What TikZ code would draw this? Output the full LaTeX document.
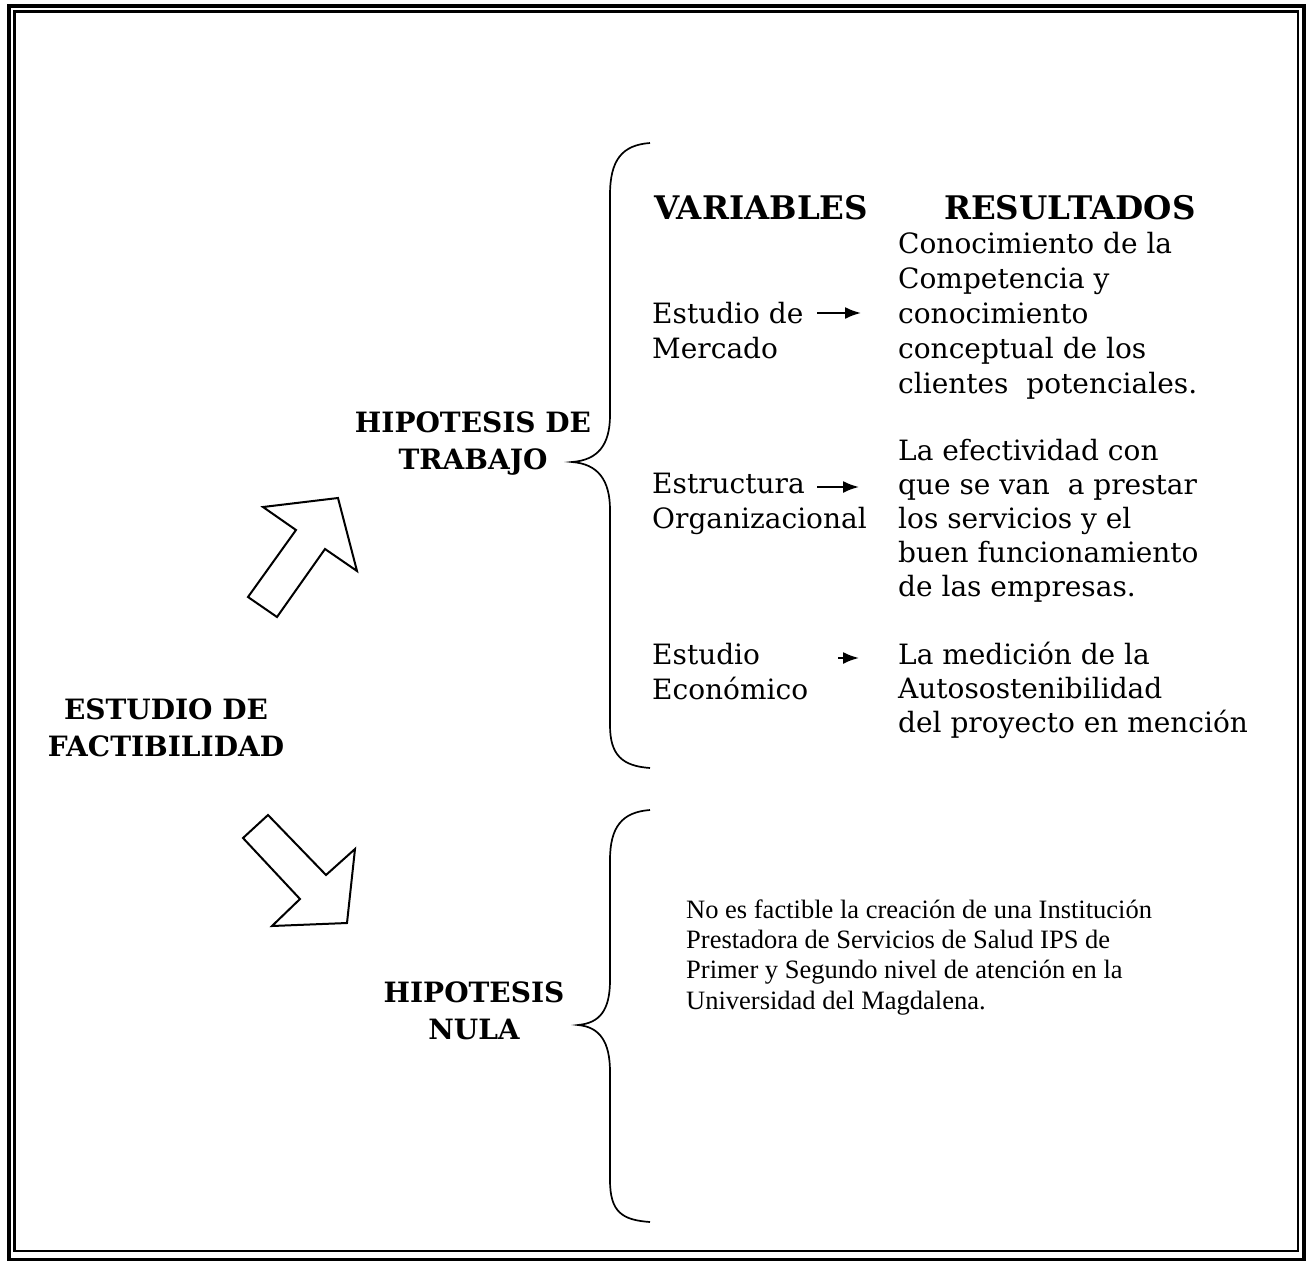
\documentclass[tikz,border=0pt]{standalone}
\usepackage{fontspec}
\setmainfont{DejaVu Serif}
\newfontfamily\timesfont{Liberation Serif}
\usetikzlibrary{arrows.meta}
\begin{document}
\begin{tikzpicture}[x=1pt,y=-1pt,
  txt/.style={inner sep=0pt,anchor=base west,align=left,font=\fontsize{28}{35}\selectfont},
  head/.style={inner sep=0pt,anchor=base west,font=\bfseries\fontsize{32.5}{35}\selectfont},
  hyp/.style={inner sep=0pt,anchor=base,align=center,font=\bfseries\fontsize{28}{37}\selectfont},
  small/.style={inner sep=0pt,anchor=base west,align=left,font=\timesfont\fontsize{26.5}{30.3}\selectfont},
  conn/.style={line width=2pt,-{Latex[length=16pt,width=12pt]}},
  brace/.style={line width=1.7pt},
  bigarrow/.style={line width=2pt,line join=miter,fill=white}]
\useasboundingbox (0,0) rectangle (1307,1261);
% double frame
\draw[line width=4pt] (9,5.5) rectangle (1304,1259.5);
\draw[line width=2.5pt] (14.5,11.5) rectangle (1298,1251);

% left labels (base = last line)
\node[hyp] (ef) at (166,756) {ESTUDIO DE\\FACTIBILIDAD};
\node[hyp] (ht) at (473,469) {HIPOTESIS DE\\TRABAJO};
\node[hyp] (hn) at (474,1039) {HIPOTESIS\\NULA};

% hollow arrows
\draw[bigarrow] (338,498) -- (263,507) -- (296,530) -- (248,597) -- (277,617) -- (325,549) -- (357,571) -- cycle;
\draw[bigarrow] (243,838) -- (268,815) -- (326,875) -- (355,849) -- (347,923) -- (272,926) -- (300,899) -- cycle;

% braces
\draw[brace] (650,143) .. controls (622,145) and (610,160) .. (610,195) -- (610,415)
  .. controls (610,445) and (598,460) .. (572,462)
  .. controls (598,464) and (610,480) .. (610,510) -- (610,725)
  .. controls (610,755) and (622,766) .. (650,768);
\draw[brace] (650,810) .. controls (622,812) and (610,827) .. (610,860) -- (610,980)
  .. controls (610,1010) and (600,1023) .. (578,1025)
  .. controls (600,1027) and (610,1042) .. (610,1072) -- (610,1180)
  .. controls (610,1212) and (622,1220) .. (650,1222);

% headings
\node[head] (var) at (654,219) {VARIABLES};
\node[head] (res) at (944,219) {RESULTADOS};

% variables (base = last line)
\node[txt] (v1) at (652,358) {Estudio de\\Mercado};
\node[txt] (v2) at (652,528) {Estructura\\Organizacional};
\node[txt] (v3) at (652,699) {Estudio\\Económico};

% results
\node[txt] (r1) at (898,393) {Conocimiento de la\\Competencia y\\conocimiento\\conceptual de los\\clientes\ \ potenciales.};
\node[txt,font=\fontsize{28}{34}\selectfont] (r2) at (898,596) {La efectividad con\\que se van\ \ a prestar\\los servicios y el\\buen funcionamiento\\de las empresas.};
\node[txt,font=\fontsize{28}{34}\selectfont] (r3) at (898,732) {La medición de la\\Autosostenibilidad\\del proyecto en mención};

% small arrows
\coordinate (a1s) at (817,313); \coordinate (a1e) at (861,313);
\coordinate (a2s) at (817,487); \coordinate (a2e) at (859,487);
\coordinate (a3s) at (838,658); \coordinate (a3e) at (859,658);
\draw[conn] (a1s) -- (a1e);
\draw[conn] (a2s) -- (a2e);
\draw[conn] (a3s) -- (a3e);

% null hypothesis text
\node[small] (nt) at (686,1009) {No es factible la creación de una Institución\\Prestadora de Servicios de Salud IPS de\\Primer y Segundo nivel de atención en la\\Universidad del Magdalena.};
\end{tikzpicture}
\end{document}
